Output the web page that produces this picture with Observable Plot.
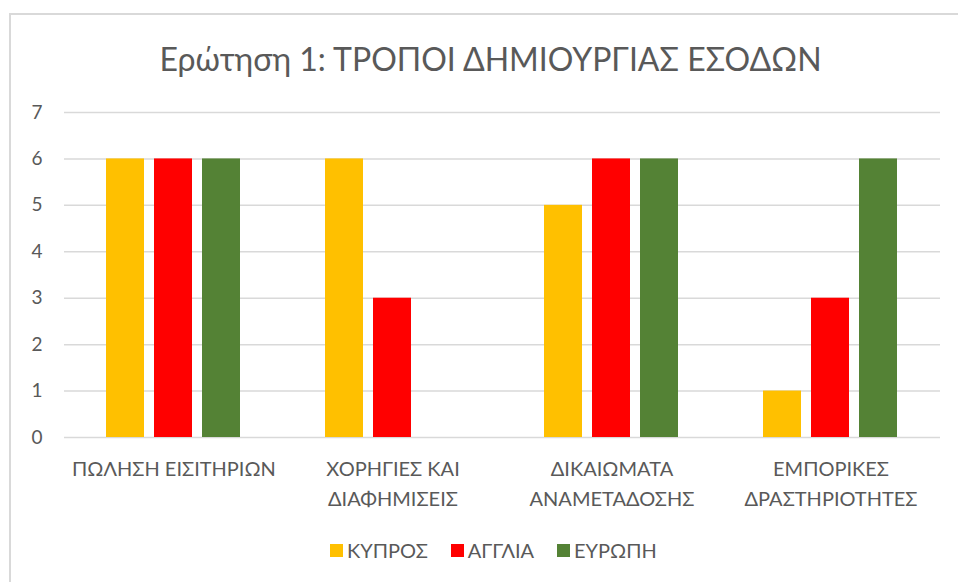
<!DOCTYPE html>
<html>
<head>
<meta charset="utf-8">
<script src="https://cdn.jsdelivr.net/npm/d3@7"></script>
<script src="https://cdn.jsdelivr.net/npm/@observablehq/plot@0.6"></script>
<style>
  html, body { margin: 0; padding: 0; background: #fff; }
  body { width: 958px; height: 582px; position: relative; overflow: hidden; font-family: Lato, "Open Sans", sans-serif; color: #595959; }
  #frame { position: absolute; left: 9px; top: 13px; width: 980px; height: 620px; border-left: 2px solid #d9d9d9; border-top: 2px solid #d9d9d9; box-sizing: border-box; }
  #title { position: absolute; left: 0; top: 43px; width: 981px; text-align: center; font-size: 32px; line-height: 1; color: #595959; white-space: nowrap; }
  #chart { position: absolute; left: 0; top: 0; }
  #legend { position: absolute; left: 330px; top: 540px; display: flex; align-items: center; font-size: 20px; line-height: 20px; color: #595959; white-space: nowrap; }
  #legend .item { display: flex; align-items: center; margin-right: 23px; }
  #legend .sw { width: 13px; height: 13px; margin-right: 4px; }
</style>
</head>
<body>
<div id="frame"></div>
<div id="chart"></div>
<div id="title">Ερώτηση 1: ΤΡΟΠΟΙ ΔΗΜΙΟΥΡΓΙΑΣ ΕΣΟΔΩΝ</div>
<div id="legend"></div>
<script>
const categories = ["ΠΩΛΗΣΗ ΕΙΣΙΤΗΡΙΩΝ", "ΧΟΡΗΓΙΕΣ ΚΑΙ ΔΙΑΦΗΜΙΣΕΙΣ", "ΔΙΚΑΙΩΜΑΤΑ ΑΝΑΜΕΤΑΔΟΣΗΣ", "ΕΜΠΟΡΙΚΕΣ ΔΡΑΣΤΗΡΙΟΤΗΤΕΣ"];
const categoryLabels = ["ΠΩΛΗΣΗ ΕΙΣΙΤΗΡΙΩΝ", "ΧΟΡΗΓΙΕΣ ΚΑΙ\nΔΙΑΦΗΜΙΣΕΙΣ", "ΔΙΚΑΙΩΜΑΤΑ\nΑΝΑΜΕΤΑΔΟΣΗΣ", "ΕΜΠΟΡΙΚΕΣ\nΔΡΑΣΤΗΡΙΟΤΗΤΕΣ"];
const series = ["ΚΥΠΡΟΣ", "ΑΓΓΛΙΑ", "ΕΥΡΩΠΗ"];
const kypros = [6, 6, 5, 1];
const anglia = [6, 3, 6, 3];
const evropi = [6, 0, 6, 6];
const seriesColors = ["#FFC000", "#FF0000", "#548235"];
const yTicks = [0, 1, 2, 3, 4, 5, 6, 7];

const seriesValues = [kypros, anglia, evropi];
const data = [];
categories.forEach((c, i) => {
  series.forEach((s, j) => {
    data.push({category: c, series: s, value: seriesValues[j][i]});
  });
});

const chart = Plot.plot({
  width: 958,
  height: 530,
  marginTop: 112,
  marginBottom: 93,
  marginLeft: 62,
  marginRight: 17,
  style: {fontFamily: "Lato, 'Open Sans', sans-serif", fontSize: "20px", color: "#595959", background: "transparent", overflow: "visible"},
  fx: {domain: categories, padding: 0, label: null},
  x: {domain: series, paddingInner: 0.2, paddingOuter: 0.866, axis: null},
  y: {domain: [0, 7], label: null},
  color: {domain: series, range: seriesColors},
  marks: [
    Plot.gridY(yTicks, {stroke: "#d9d9d9", strokeOpacity: 1, strokeWidth: 1.5}),
    Plot.axisY(yTicks, {tickSize: 0, tickPadding: 22, label: null, fontSize: 19, fill: "#595959"}),
    Plot.barY(data, {fx: "category", x: "series", y: "value", fill: "series"}),
    Plot.axisFx({anchor: "bottom", tickSize: 0, tickPadding: 17, label: null, fontSize: 20, fill: "#595959", lineHeight: 1.5,
      tickFormat: d => categoryLabels[categories.indexOf(d)]})
  ]
});
document.getElementById("chart").appendChild(chart);

const legend = document.getElementById("legend");
series.forEach((s, j) => {
  const item = document.createElement("div");
  item.className = "item";
  const sw = document.createElement("span");
  sw.className = "sw";
  sw.style.background = seriesColors[j];
  const t = document.createElement("span");
  t.textContent = s;
  item.appendChild(sw);
  item.appendChild(t);
  legend.appendChild(item);
});
</script>
</body>
</html>
